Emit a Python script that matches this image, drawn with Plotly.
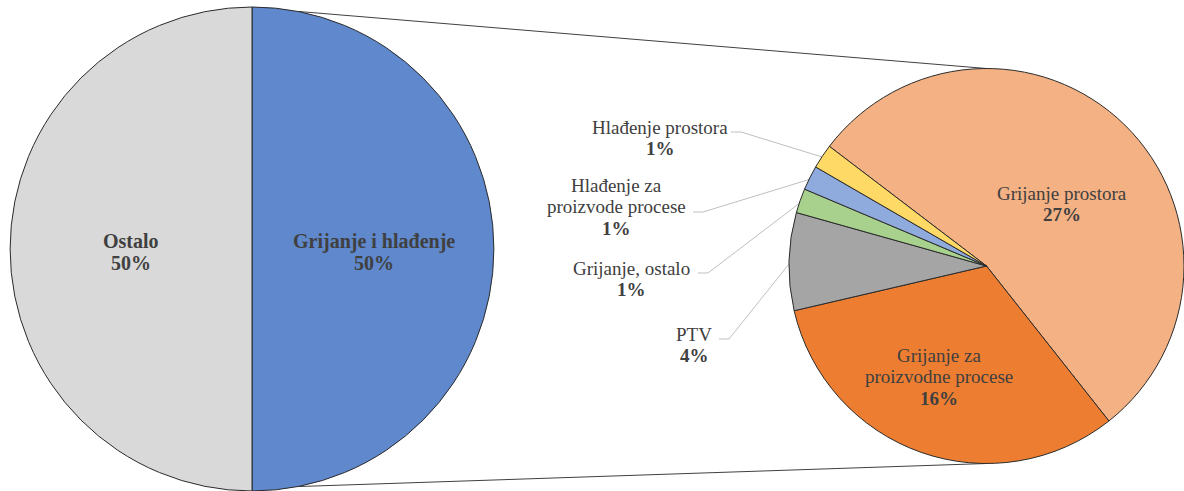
import math
import plotly.graph_objects as go

# ---------------- data ----------------
main_labels = ["Grijanje i hlađenje", "Ostalo"]
main_values = [50, 50]
main_colors = ["#5F88CD", "#D9D9D9"]

sub_labels = ["Grijanje prostora", "Grijanje za<br>proizvodne procese", "PTV",
              "Grijanje, ostalo", "Hlađenje za<br>proizvode procese", "Hlađenje prostora"]
sub_values = [27, 16, 4, 1, 1, 1]
sub_colors = ["#F4B183", "#ED7D31", "#A5A5A5", "#A9D18E", "#8FAADC", "#FFD966"]

# ---------------- layout constants ----------------
W, H = 1184, 491
FONT = "'Liberation Serif', 'Times New Roman', Times, serif"
TXT = "#404040"
LINE_H = 21.5

# main pie geometry (pixels, origin top-left)
L_CX, L_CY, L_R = 252, 249, 242
# secondary pie geometry
R_X0 = 789
R_R = (W - R_X0) / 2
R_CX, R_CY = R_X0 + R_R, 266
R_ROT = -52.7  # compass start angle of first slice

fig = go.Figure()

fig.update_layout(
    xaxis=dict(range=[0, W], visible=False, domain=[0, 1], fixedrange=True),
    yaxis=dict(range=[H, 0], visible=False, domain=[0, 1], fixedrange=True),
)

# connector lines between the pies
top_ang = math.radians(79)
bot_ang = math.radians(-79)
for ang, ry in [(top_ang, R_CY - R_R), (bot_ang, R_CY + R_R)]:
    x0 = L_CX + L_R * math.cos(ang)
    y0 = L_CY - L_R * math.sin(ang)
    fig.add_trace(go.Scatter(x=[x0, R_CX], y=[y0, ry], mode="lines",
                             line=dict(color="#404040", width=1),
                             hoverinfo="skip", showlegend=False))

# main pie
fig.add_trace(go.Pie(
    labels=main_labels, values=main_values, sort=False, direction="clockwise",
    rotation=0, textinfo="none", hoverinfo="label+percent",
    marker=dict(colors=main_colors, line=dict(color="#2B2B2B", width=1)),
    domain=dict(x=[(L_CX - L_R) / W, (L_CX + L_R) / W],
                y=[(H - L_CY - L_R) / H, (H - L_CY + L_R) / H]),
    showlegend=False,
))

# secondary pie
fig.add_trace(go.Pie(
    labels=sub_labels, values=sub_values, sort=False, direction="clockwise",
    rotation=R_ROT, textinfo="none", hoverinfo="label+value",
    marker=dict(colors=sub_colors, line=dict(color="#2B2B2B", width=1)),
    domain=dict(x=[R_X0 / W, 1.0],
                y=[(H - R_CY - R_R) / H, (H - R_CY + R_R) / H]),
    showlegend=False,
))


def put_lines(lines, x, y_first, sizes):
    for i, (t, s) in enumerate(zip(lines, sizes)):
        fig.add_annotation(x=x, y=y_first + i * LINE_H, xref="x", yref="y",
                           showarrow=False, text=t, xanchor="center", yanchor="middle",
                           font=dict(family=FONT, size=s, color=TXT))


# ---- main labels (bold) ----
main_pos = [(374, 241), (131, 241)]
for lab, v, (x, y) in zip(main_labels, main_values, main_pos):
    put_lines([f"<b>{lab}</b>", f"<b>{v:.0f}%</b>"], x, y, [20, 20])

# ---- secondary labels ----
sub_pos = [(1062, 193), (939, 355), (694, 334), (631, 268), (616, 185), (660, 127)]
leader_start = [None, None, (719, 339), (698, 273), (693, 212), (731, 132)]

total = sum(sub_values)
start_math = 90 - R_ROT
cum = 0
for lab, v, (x, y), ls in zip(sub_labels, sub_values, sub_pos, leader_start):
    mid = start_math - (cum + v / 2) / total * 360
    cum += v
    lines = lab.split("<br>") + [f"<b>{v:.0f}%</b>"]
    put_lines(lines, x, y, [19] * len(lines))
    if ls is not None:
        ex = R_CX + R_R * 0.99 * math.cos(math.radians(mid))
        ey = R_CY - R_R * 0.99 * math.sin(math.radians(mid))
        fig.add_trace(go.Scatter(x=[ls[0], ls[0] + 10, ex], y=[ls[1], ls[1], ey],
                                 mode="lines", line=dict(color="#BFBFBF", width=1),
                                 hoverinfo="skip", showlegend=False))

fig.update_layout(
    width=W, height=H, margin=dict(l=0, r=0, t=0, b=0),
    paper_bgcolor="white", plot_bgcolor="white",
    font=dict(family=FONT, color=TXT),
)

fig.write_html("out.html", config={"displayModeBar": False},
               post_script="document.body.style.margin='0';document.body.style.overflow='hidden';")
